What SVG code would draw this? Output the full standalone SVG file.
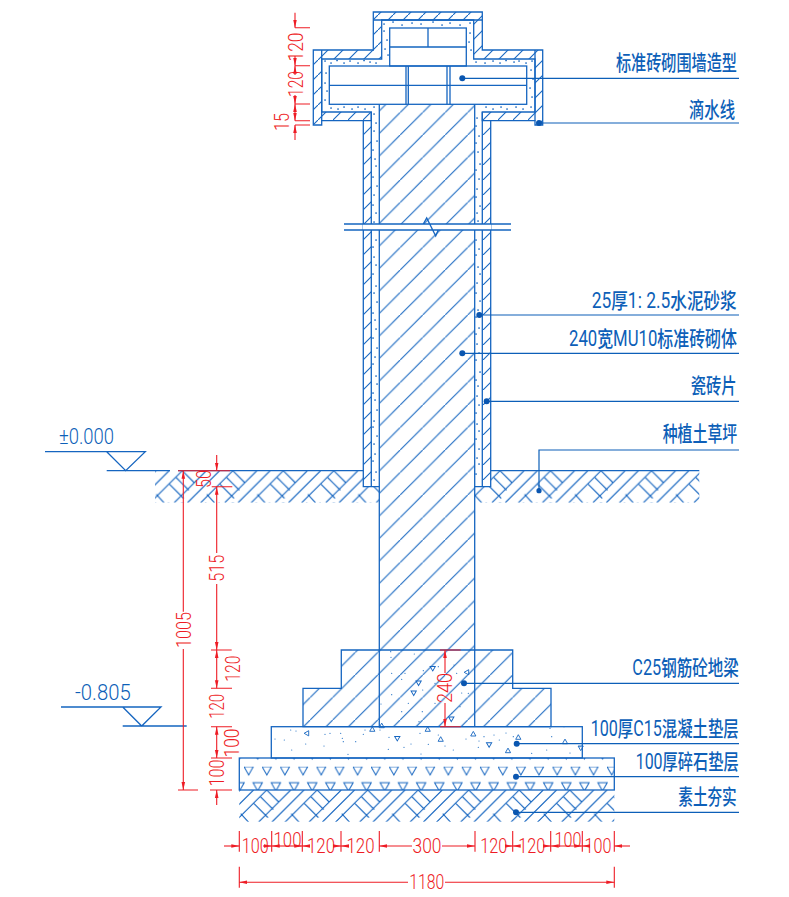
<svg xmlns="http://www.w3.org/2000/svg" width="789" height="897" viewBox="0 0 789 897">
<style>
.s{fill:none;stroke:#1565c0;stroke-width:1.3}
.fh22{fill:url(#h22)}
.fh15{fill:url(#h15)}
.ftr{fill:url(#tr)}
.l{fill:none;stroke:#0d5fb8;stroke-width:1.2}
.d{fill:none;stroke:#ee1c25;stroke-width:1.1}
.a{marker-start:url(#ar);marker-end:url(#ar)}
.b{marker-start:url(#ar)}
.e{marker-end:url(#ar)}
.dot{fill:#0a56b0}
.t{font-family:"Noto Sans CJK SC","Liberation Sans",sans-serif;font-size:21px;font-weight:500;fill:#0d5fb8}
.t .r{font-family:"Roboto","Liberation Sans",sans-serif;font-size:22px;font-weight:400}
.el{font-family:"Roboto","Liberation Sans",sans-serif;font-weight:300;font-size:22px;fill:#0d5fb8}
.n{font-family:"Roboto","Liberation Sans",sans-serif;font-weight:300;font-size:20px;fill:#ee1c25;text-anchor:middle}
.st{fill:none;stroke:#1f6fc4;stroke-width:1.2;stroke-linecap:round}
.st2{fill:none;stroke:#1565c0;stroke-width:1.7;stroke-linecap:round}
</style>
<defs>
<marker id="ar" markerUnits="userSpaceOnUse" markerWidth="9" markerHeight="5" refX="8" refY="2.5" orient="auto-start-reverse"><path d="M0,.7 L8,2.5 L0,4.3Z" fill="#ee1c25"/></marker>
<pattern id="h22" patternUnits="userSpaceOnUse" x="17.7" y="0" width="22.5" height="22.5"><path d="M-2,24.5 L24.5,-2" fill="none" stroke="#1565c0" stroke-width="1.1"/></pattern>
<pattern id="h15" patternUnits="userSpaceOnUse" x="3" y="0" width="15" height="15"><path d="M-2,17 L17,-2" fill="none" stroke="#1565c0" stroke-width="1.1"/></pattern>
<path id="gp" d="M-32.7,32.7 L0,0 M24,0 L-8,32 M37.3,0 L5.3,32 M0,0 L12,12 M-6,7 L6.5,19.5 M-12.7,13.7 L1.3,27.7 M-26,23.7 L-17.7,32.7" fill="none" stroke="#1565c0" stroke-width="1.1"/>
<pattern id="g1" patternUnits="userSpaceOnUse" x="182.3" y="470.7" width="50.5" height="32"><use href="#gp"/><use href="#gp" x="50.5"/></pattern>
<pattern id="g2" href="#g1" x="500" y="470.7"/>
<pattern id="g3" href="#g1" x="266.7" y="790"/>
<pattern id="tr" patternUnits="userSpaceOnUse" x="244" y="766.7" width="18.15" height="32"><path d="M0,0 H9.3 L4.65,8.3Z M9.07,16 H18.37 L13.72,24.3Z M-9.08,16 H.22 L-4.43,24.3Z M9.07,-16 H18.37 L13.72,-7.7Z M-9.08,-16 H.22 L-4.43,-7.7Z" fill="none" stroke="#1565c0" stroke-width="1"/></pattern>
<path id="tri" d="M-2.6,2 H2.6 L0,-2.6Z" fill="none" stroke="#1565c0" stroke-width=".9"/>
</defs>

<g id="pillar-brick">
<rect x="379.3" y="104.3" width="95.4" height="546" fill="url(#h22)"/>
<path d="M303,726.7 V688.3 H341.3 V650 H512.7 V688.3 H551 V726.7Z" class="s fh22"/>
<path d="M379.3,104.3 V726.7 M474.7,104.3 V726.7" class="s"/>
</g>

<g id="mortar">
<path class="st2" d="M374,114h.1M376,123h.1M374,131h.1M377,141h.1M373,150h.1M375,159h.1M376,166h.1M373,177h.1M377,186h.1M374,195h.1M373,205h.1M376,213h.1M374,222h.1M376,240h.1M373,247h.1M374,257h.1M376,265h.1M373,274h.1M376,286h.1M374,293h.1M377,302h.1M373,313h.1M375,320h.1M376,329h.1M373,338h.1M377,348h.1M375,357h.1M373,364h.1M376,376h.1M377,384h.1M373,393h.1M375,400h.1M377,410h.1M374,421h.1M373,427h.1M377,436h.1M374,444h.1M375,454h.1M373,461h.1M376,472h.1M374,480h.1"/>
<path class="st2" d="M477,118h.1M476,126h.1M479,136h.1M476,143h.1M478,152h.1M480,164h.1M476,170h.1M479,179h.1M477,189h.1M476,197h.1M480,206h.1M477,213h.1M478,221h.1M476,240h.1M479,249h.1M476,255h.1M478,267h.1M480,274h.1M477,283h.1M476,293h.1M480,301h.1M478,310h.1M476,317h.1M479,328h.1M476,334h.1M477,344h.1M479,353h.1M476,360h.1M480,372h.1M476,380h.1M478,386h.1M477,396h.1M479,405h.1M476,413h.1M477,424h.1M479,431h.1M476,439h.1M479,449h.1M477,458h.1M479,464h.1M476,474h.1"/>
<path class="st2" d="M325,61h.1M331,63h.1M337,60.500h.1M344,63h.1M350,61h.1M358,63h.1M364,60.500h.1M370,62h.1M376,63h.1M384,24h.1M393,22h.1M402,25h.1M412,23h.1M421,24h.1M433,22h.1M442,25h.1M450,23h.1M460,25h.1M470,23h.1M470,33h.1M469,42h.1M471,50h.1M476,62h.1M485,63h.1M493,61h.1M500,63h.1M506,60.500h.1M514,62h.1M519,61h.1M526,63h.1M532,61h.1M531,70h.1M533,79h.1M530,88h.1M532,97h.1M531,107h.1M523,109h.1M516,107h.1M507,109h.1M501,107h.1M493,109h.1M486,107h.1M374,107h.1M365,109h.1M358,107h.1M352,109h.1M344,107h.1M338,109h.1M331,108h.1M325,100h.1M327,91h.1M325,83h.1M326,73h.1M384,31h.1M387,40h.1M385,49h.1M388,55h.1"/>
</g>

<g id="cap-shell">
<path d="M373.3,12 H482.3 V50 H542.7 V125 H535 V120.7 H482.3 V112 H535 V59 H473.7 V20 H381.7 V59 H321.7 V112 H371.3 V120.7 H321.7 V125 H313.3 V50 H373.3Z" class="s fh15"/>
<path d="M373.3,20 H482.3 M321.7,50 V120.7 M535,50 V120.7" class="s"/>
</g>

<g id="tile">
<rect x="363.3" y="120.7" width="8" height="366" fill="url(#h15)"/>
<rect x="482.3" y="120.7" width="8.4" height="366" fill="url(#h15)"/>
<path d="M363.3,120.7 V486.7 H379.3 M371.3,112 V486.7 M482.3,112 V486.7 M490.7,120.7 V486.7 H474.7" class="s"/>
</g>

<g id="bricks">
<rect x="389.7" y="28" width="76.6" height="38" class="s"/>
<path d="M389.7,47 H466.3 M428,28 V47" class="s"/>
<rect x="329.3" y="66" width="197.4" height="38.3" class="s"/>
<path d="M329.3,85.3 H526.7 M406,66 V104.3 M408.3,66 V104.3 M447,66 V104.3 M450,66 V104.3" class="s"/>
</g>

<g id="break-line">
<rect x="363" y="224" width="128" height="6" fill="#fff"/>
<path d="M344,224 H511 M344,230 H511 M423.3,224 L426.7,218 L435.7,236 L438.3,230" class="s"/>
</g>

<g id="ground">
<path d="M155,471 H363.3 V486.7 H379.3 V502.7 H155Z" fill="url(#g1)"/>
<path d="M474.7,486.7 H490.7 V470.7 H699.3 V502.7 H474.7Z" fill="url(#g2)"/>
<path d="M106.7,470.7 H170 M178,470.7 H363.3 M490.7,470.7 H699.3" class="s"/>
</g>

<g id="concrete">
<rect x="271.3" y="726.7" width="311" height="31.3" class="s"/>
<path class="st" d="M275,739h.01M284.3,740h.01M291.7,750h.01M290.7,730h.01M296,731h.01M305.7,744h.01M324,746h.01M325,734.3h.01M330,733.3h.01M340.7,733.3h.01M342.3,738.3h.01M343.3,741.7h.01M355.7,741.7h.01M348,754.3h.01M363.3,734.3h.01M365,730h.01M380,730h.01M389,737.3h.01M388.3,749.3h.01M404,747.3h.01M411,744h.01M421,754h.01M428.3,744.3h.01M445,746h.01M453.3,750h.01M466,739h.01M478.3,747.3h.01M479,741h.01M484,736.7h.01M494,735h.01M438.3,735h.01M420,733.3h.01M499.3,740h.01M506,733h.01M513.3,736.7h.01M531.7,753.3h.01M546.7,750h.01M550,728.3h.01M551.7,736.7h.01M564,726.7h.01M580,746.7h.01M570,753h.01"/>
<path class="st" d="M390.7,651.7h.01M391,657.3h.01M414.3,654h.01M423.3,670.7h.01M405,673.3h.01M391.7,673.3h.01M401.7,679.3h.01M391.7,694.7h.01M381,704h.01M408.3,703.3h.01M422.7,690h.01M422.3,711.7h.01M401.7,711.7h.01M419,721.7h.01M435,703.3h.01M454,665h.01M456.7,673.3h.01M461.7,693h.01M468.3,693.3h.01M460,706.7h.01M451.7,713.3h.01M438.3,666.7h.01M435,683.3h.01"/>
<use href="#tri" transform="translate(306.7,733.3) rotate(-90)"/>
<use href="#tri" transform="translate(372.3,729.3)"/>
<use href="#tri" transform="translate(381.7,725.7)"/>
<use href="#tri" transform="translate(427.7,729.3)"/>
<use href="#tri" transform="translate(440.7,739.3)"/>
<use href="#tri" transform="translate(473.3,734)"/>
<use href="#tri" transform="translate(397.7,737.7) rotate(60)"/>
<use href="#tri" transform="translate(488.7,744) rotate(-60)"/>
<use href="#tri" transform="translate(518.3,737.3)"/>
<use href="#tri" transform="translate(565,741.7)"/>
<use href="#tri" transform="translate(508,750.7)"/>
<use href="#tri" transform="translate(580.7,748) rotate(180)"/>
<use href="#tri" transform="translate(432.3,667.7) rotate(-60)"/>
<use href="#tri" transform="translate(466.7,672.3) rotate(-90)"/>
<use href="#tri" transform="translate(419,682.3) rotate(60)"/>
<use href="#tri" transform="translate(413.3,692.3) rotate(-60)"/>
<use href="#tri" transform="translate(451.7,718.3) rotate(60)"/>
</g>

<g id="gravel">
<rect x="239.3" y="758" width="375" height="32" class="s ftr"/>
</g>
<g id="soil">
<rect x="239.3" y="790" width="375" height="31.7" fill="url(#g3)"/>
</g>

<g id="connectors">
<path class="l" d="M462.3,78.3 H739 M539,123 H739 M479.3,315 H739 M462.3,353.3 H739 M486.7,401.3 H739 M539,490.7 V450 H739 M464,683.3 H739 M516.7,743.7 H739 M516,776.7 H739 M516,812.3 H739"/>
<g class="dot">
<circle cx="462.3" cy="78.3" r="3"/><circle cx="539" cy="123" r="3"/><circle cx="479.3" cy="315" r="3"/><circle cx="462.3" cy="353.3" r="3"/><circle cx="486.7" cy="401.3" r="3"/><circle cx="539" cy="490.7" r="2.6"/><circle cx="464" cy="683.3" r="3"/><circle cx="516.7" cy="743.7" r="3"/><circle cx="516" cy="776.7" r="3"/><circle cx="516" cy="812.3" r="3"/>
</g>
</g>

<g id="labels">
<text class="t" transform="translate(616,70) scale(.72,1)" textLength="168" lengthAdjust="spacingAndGlyphs">标准砖砌围墙造型</text>
<text class="t" transform="translate(689,117) scale(.72,1)" textLength="63.9" lengthAdjust="spacingAndGlyphs">滴水线</text>
<text class="t" transform="translate(591.7,308) scale(.72,1)" textLength="201.4" lengthAdjust="spacingAndGlyphs"><tspan class="r">25</tspan>厚<tspan class="r">1: 2.5</tspan>水泥砂浆</text>
<text class="t" transform="translate(569,345.5) scale(.72,1)" textLength="233.3" lengthAdjust="spacingAndGlyphs"><tspan class="r">240</tspan>宽<tspan class="r">MU10</tspan>标准砖砌体</text>
<text class="t" transform="translate(690.7,393) scale(.72,1)" textLength="63.9" lengthAdjust="spacingAndGlyphs">瓷砖片</text>
<text class="t" transform="translate(662.7,441) scale(.72,1)" textLength="103.5" lengthAdjust="spacingAndGlyphs">种植土草坪</text>
<text class="t" transform="translate(632.3,675) scale(.72,1)" textLength="147.8" lengthAdjust="spacingAndGlyphs"><tspan class="r">C25</tspan>钢筋砼地梁</text>
<text class="t" transform="translate(590.7,736) scale(.72,1)" textLength="205.6" lengthAdjust="spacingAndGlyphs"><tspan class="r">100</tspan>厚<tspan class="r">C15</tspan>混凝土垫层</text>
<text class="t" transform="translate(635.7,768.5) scale(.72,1)" textLength="143" lengthAdjust="spacingAndGlyphs"><tspan class="r">100</tspan>厚碎石垫层</text>
<text class="t" transform="translate(678.3,804) scale(.72,1)" textLength="81.1" lengthAdjust="spacingAndGlyphs">素土夯实</text>
</g>

<g id="elevation-0">
<path class="s" d="M45,451.7 H145.3 L125.7,470.7 L106.7,451.7"/>
<text class="el" x="59" y="444.3" textLength="55" lengthAdjust="spacingAndGlyphs">±0.000</text>
</g>
<g id="elevation-805">
<path class="s" d="M61,707 H161 L141.7,726 L122.7,707 M122.7,726 H186.7"/>
<text class="el" x="75" y="700" textLength="55.7" lengthAdjust="spacingAndGlyphs">-0.805</text>
</g>

<g id="dims-top">
<path class="d" d="M295,27.7 H310 M295,65.7 H310 M295,104 H310 M295,120.7 H310 M295,125 H310"/>
<line class="d e" x1="295" y1="12.7" x2="295" y2="27.7"/>
<line class="d e" x1="295" y1="56" x2="295" y2="65.7"/>
<line class="d b" x1="295" y1="65.7" x2="295" y2="75"/>
<line class="d e" x1="295" y1="95" x2="295" y2="104"/>
<line class="d a" x1="295" y1="104" x2="295" y2="120.7"/>
<line class="d b" x1="295" y1="125" x2="295" y2="140"/>
<text class="n" transform="translate(303,47) rotate(-90)" textLength="29" lengthAdjust="spacingAndGlyphs">120</text>
<text class="n" transform="translate(303,84) rotate(-90)" textLength="26" lengthAdjust="spacingAndGlyphs">120</text>
<text class="n" transform="translate(289,122) rotate(-90)" textLength="18" lengthAdjust="spacingAndGlyphs">15</text>
</g>

<g id="dims-left">
<path class="d" d="M178,470.7 H230 M211.7,486.7 H232.3 M211,650 H231.7 M211,688.3 H232 M211,726.7 H232 M211,758 H232 M210,790 H232 M178,790 H198"/>
<line class="d b" x1="183.3" y1="470.7" x2="183.3" y2="611.7"/>
<line class="d e" x1="183.3" y1="649" x2="183.3" y2="790"/>
<text class="n" transform="translate(190.7,630) rotate(-90)" textLength="36" lengthAdjust="spacingAndGlyphs">1005</text>
<line class="d e" x1="216.7" y1="455" x2="216.7" y2="470.7"/>
<line class="d b" x1="216.7" y1="486.7" x2="216.7" y2="553"/>
<line class="d e" x1="216.7" y1="584" x2="216.7" y2="650"/>
<line class="d a" x1="216.7" y1="650" x2="216.7" y2="688.3"/>
<line class="d a" x1="216.7" y1="726.7" x2="216.7" y2="758"/>
<line class="d b" x1="216.7" y1="790" x2="216.7" y2="805"/>
<text class="n" transform="translate(210.7,479) rotate(-90)" textLength="18" lengthAdjust="spacingAndGlyphs">50</text>
<text class="n" transform="translate(224,568.2) rotate(-90)" textLength="27" lengthAdjust="spacingAndGlyphs">515</text>
<text class="n" transform="translate(240,668.7) rotate(-90)" textLength="26" lengthAdjust="spacingAndGlyphs">120</text>
<text class="n" transform="translate(224,706.3) rotate(-90)" textLength="25" lengthAdjust="spacingAndGlyphs">120</text>
<text class="n" transform="translate(239.3,743) rotate(-90)" textLength="29" lengthAdjust="spacingAndGlyphs">100</text>
<text class="n" transform="translate(224.3,773) rotate(-90)" textLength="27" lengthAdjust="spacingAndGlyphs">100</text>
</g>

<g id="dim-240">
<path class="d" d="M440,650 H460.7 M440,726.7 H460.7"/>
<line class="d b" x1="445" y1="650" x2="445" y2="673"/>
<line class="d e" x1="445" y1="703" x2="445" y2="726.7"/>
<text class="n" transform="translate(451.7,688) rotate(-90)" textLength="30" lengthAdjust="spacingAndGlyphs">240</text>
</g>

<g id="dims-bottom">
<path class="d" d="M239.3,831 V851.7 M271.7,831 V851.7 M302.3,831 V851.7 M341,831 V851.7 M379.3,831 V851.7 M475,831 V851.7 M512.7,831 V851.7 M550.7,831 V851.7 M582.3,831 V851.7 M614.3,831 V851.7 M239.3,866.7 V887.7 M614.3,866.7 V887.7"/>
<line class="d e" x1="224" y1="846" x2="239.3" y2="846"/>
<line class="d e" x1="263" y1="846" x2="271.7" y2="846"/>
<line class="d a" x1="271.7" y1="846" x2="302.3" y2="846"/>
<line class="d b" x1="302.3" y1="846" x2="308" y2="846"/>
<line class="d e" x1="334" y1="846" x2="341" y2="846"/>
<line class="d b" x1="341" y1="846" x2="348" y2="846"/>
<line class="d b" x1="379.3" y1="846" x2="412" y2="846"/>
<line class="d e" x1="442" y1="846" x2="475" y2="846"/>
<line class="d e" x1="505" y1="846" x2="512.7" y2="846"/>
<line class="d b" x1="512.7" y1="846" x2="520" y2="846"/>
<line class="d e" x1="543" y1="846" x2="550.7" y2="846"/>
<line class="d a" x1="550.7" y1="846" x2="582.3" y2="846"/>
<line class="d b" x1="582.3" y1="846" x2="589" y2="846"/>
<line class="d e" x1="630" y1="846" x2="614.3" y2="846"/>
<line class="d b" x1="239.3" y1="882.3" x2="408" y2="882.3"/>
<line class="d e" x1="445" y1="882.3" x2="614.3" y2="882.3"/>
<text class="n" x="255.3" y="853.3" textLength="27" lengthAdjust="spacingAndGlyphs">100</text>
<text class="n" x="287.5" y="847.3" textLength="28" lengthAdjust="spacingAndGlyphs">100</text>
<text class="n" x="321" y="853.3" textLength="28" lengthAdjust="spacingAndGlyphs">120</text>
<text class="n" x="360.5" y="853.3" textLength="28" lengthAdjust="spacingAndGlyphs">120</text>
<text class="n" x="427" y="853.3" textLength="29" lengthAdjust="spacingAndGlyphs">300</text>
<text class="n" x="493.7" y="853.3" textLength="27" lengthAdjust="spacingAndGlyphs">120</text>
<text class="n" x="531.7" y="853.3" textLength="27" lengthAdjust="spacingAndGlyphs">120</text>
<text class="n" x="568" y="847.3" textLength="27" lengthAdjust="spacingAndGlyphs">100</text>
<text class="n" x="598" y="853.3" textLength="27" lengthAdjust="spacingAndGlyphs">100</text>
<text class="n" x="426.7" y="889.3" textLength="35" lengthAdjust="spacingAndGlyphs">1180</text>
</g>
</svg>
